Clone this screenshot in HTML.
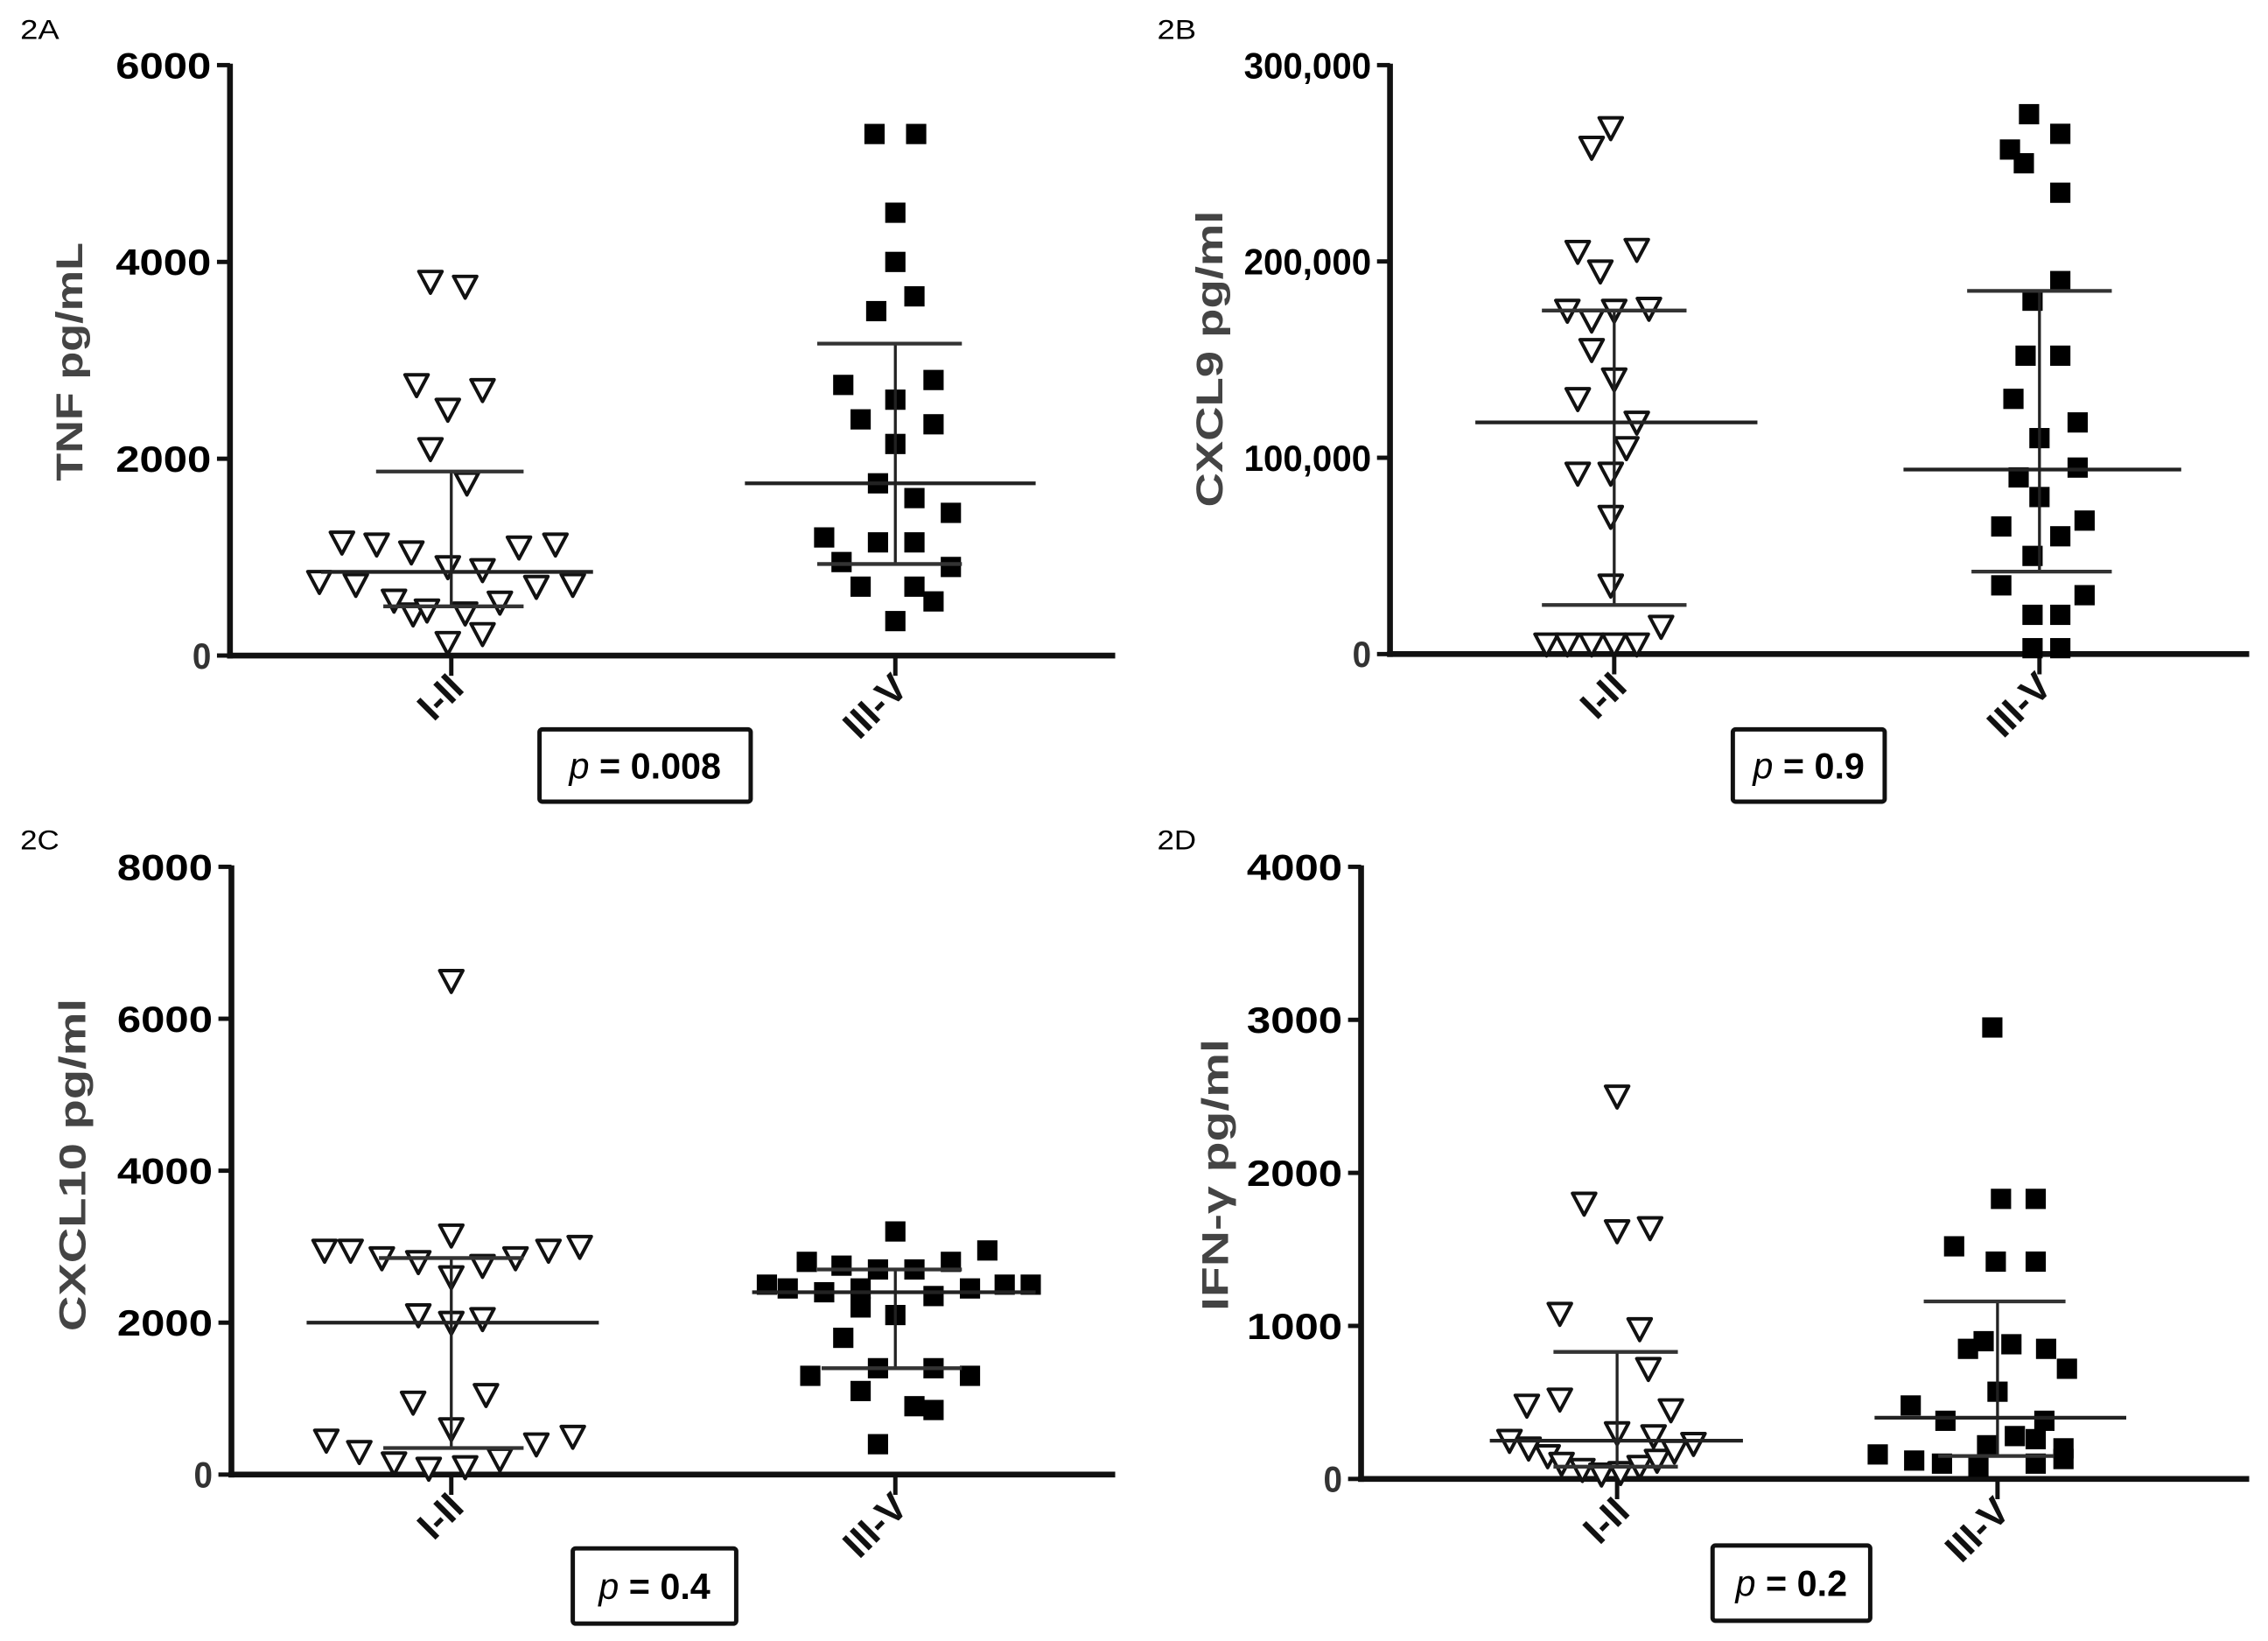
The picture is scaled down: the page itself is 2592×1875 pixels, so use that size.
<!DOCTYPE html>
<html><head><meta charset="utf-8"><style>
html,body{margin:0;padding:0;background:#fff;}
svg{display:block;}
text{font-family:"Liberation Sans",sans-serif;}
</style></head><body>
<svg id="fig" width="2592" height="1875" viewBox="0 0 1568 1134" preserveAspectRatio="none" xmlns="http://www.w3.org/2000/svg"></svg>
<script>
// ---- categories ----
const categories = ["I-II", "III-V"];
// ---- Panel A: TNF ----
const aTicks = [0, 2000, 4000, 6000];
const aTickLabels = ["0", "2000", "4000", "6000"];
const aG1Vals = [3800,3750,2750,2700,2500,2100,1750,1150,1130,1050,900,870,1100,1130,750,720,700,720,560,420,460,430,540,130,220];
const aG1Jit = [-1.2,0.8,-2,1.8,-0.2,-1.2,0.9,-6.3,-4.3,-2.3,-0.2,1.8,3.9,6,-7.6,-5.5,4.9,7,-3.3,-2.2,-1.4,0.8,2.8,-0.2,1.8];
const aG2Vals = [5300,5300,4500,4000,3650,3500,2750,2800,2600,2400,2350,2150,1750,1600,1450,1200,1150,1150,950,900,700,700,550,350];
const aG2Jit = [-1.2,1.2,0,0,1.1,-1.1,-3,2.2,0,-2,2.2,0,-1,1.1,3.2,-4.1,-1,1.1,-3.1,3.2,-2,1.1,2.2,0];
const aStats = [[850,500,1870],[1750,930,3170]];
// ---- Panel B: CXCL9 ----
const bTicks = [0, 100000, 200000, 300000];
const bTickLabels = ["0", "100,000", "200,000", "300,000"];
const bG1Vals = [258000,268000,205000,195000,206000,175000,170000,175000,176000,155000,140000,130000,118000,105000,92000,92000,70000,35000,5000,5000,5000,5000,5000,14000];
const bG1Jit = [-1.3,-0.2,-2.1,-0.8,1.3,-2.7,-1.3,0,2,-1.3,0,-2.1,1.3,0.7,-2.1,-0.2,-0.2,-0.2,-3.9,-2.7,-1.3,0,1.3,2.7];
const bG2Vals = [275000,265000,257000,250000,235000,190000,180000,152000,152000,130000,118000,110000,95000,90000,80000,65000,68000,60000,50000,35000,30000,20000,20000,3000,3000];
const bG2Jit = [-0.6,1.2,-1.7,-0.9,1.2,1.2,-0.4,-0.8,1.2,-1.5,2.2,0,2.2,-1.2,0,-2.2,2.6,1.2,-0.4,-2.2,2.6,-0.4,1.2,-0.4,1.2];
const bStats = [[118000,25000,175000],[94000,42000,185000]];
// ---- Panel C: CXCL10 ----
const cTicks = [0, 2000, 4000, 6000, 8000];
const cTickLabels = ["0", "2000", "4000", "6000", "8000"];
const cG1Vals = [6500,3150,2950,2950,2850,2800,2750,2850,2950,3000,2600,2100,2050,2000,950,1050,600,450,300,150,80,100,200,400,500];
const cG1Jit = [0,0,-7.3,-5.8,-4,-1.9,1.8,3.7,5.6,7.4,0,-1.9,1.8,0,-2.2,2,0,-7.2,-5.3,-3.3,-1.3,0.8,2.8,4.9,7];
const cG2Vals = [3200,2950,2800,2750,2700,2700,2800,2500,2450,2400,2450,2350,2450,2500,2500,2200,2100,1800,1400,1400,1300,1300,1100,900,850,400];
const cG2Jit = [0,5.3,-5.1,-3.1,-1,1.1,3.2,-7.4,-6.2,-4.1,-2,2.2,4.3,6.3,7.8,-2,0,-3,-1,2.2,-4.9,4.3,-2,1.1,2.2,-1];
const cStats = [[2000,350,2850],[2400,1400,2700]];
// ---- Panel D: IFN-gamma ----
const dTicks = [0, 1000, 2000, 3000, 4000];
const dTickLabels = ["0", "1000", "2000", "3000", "4000"];
const dG1Vals = [2500,1800,1620,1640,1080,980,720,480,520,450,300,280,250,200,150,100,60,30,40,80,120,180,230];
const dG1Jit = [0,-1.9,0,1.9,-3.3,1.3,1.8,-5.2,-3.3,3.1,0,2.1,-6.2,-5.1,-4,-3.2,-2,-0.9,0.2,1.3,2.3,3.3,4.4];
const dG2Vals = [2950,1830,1830,1520,1420,1420,900,880,850,850,720,570,480,380,380,280,260,220,200,160,120,100,80,100,130];
const dG2Jit = [-0.3,0.2,2.2,-2.5,-0.1,2.2,-0.8,0.8,-1.7,2.8,4,0,-5,-3,2.7,1,2.2,-0.6,3.8,-6.9,-4.8,-3.2,-1.1,2.2,3.8];
const dStats = [[250,80,830],[400,150,1160]];

const NS = "http://www.w3.org/2000/svg";
const svg = document.getElementById("fig");
function mk(tag, attrs, parent) {
  const e = document.createElementNS(NS, tag);
  for (const k in attrs) e.setAttribute(k, attrs[k]);
  (parent || svg).appendChild(e);
  return e;
}

const panels = [
  {id:"a", letter:"2A", lx:14, ly:27, ax:159, top:45, bot:453, xEnd:771, max:6000, cats:[312,619],
   ticks:aTicks, labels:aTickLabels, g1:[aG1Vals,aG1Jit], g2:[aG2Vals,aG2Jit], stats:aStats,
   ylabel:"TNF pg/mL", ylx:48, yly:250, ylLen:165, tickW:66,
   meanW:[[222,410],[515,716]], capW:[[260,362],[565,665]], lowW:[[265,362],[565,665]],
   box:[373,504,146,50], p:"0.008"},
  {id:"b", letter:"2B", lx:800, ly:27, ax:961, top:45, bot:452, xEnd:1555, max:300000, cats:[1116,1410],
   ticks:bTicks, labels:bTickLabels, g1:[bG1Vals,bG1Jit], g2:[bG2Vals,bG2Jit], stats:bStats,
   ylabel:"CXCL9 pg/ml", ylx:836, yly:248, ylLen:205, tickW:88,
   meanW:[[1020,1215],[1316,1508]], capW:[[1066,1166],[1360,1460]], lowW:[[1066,1166],[1363,1460]],
   box:[1198,504,105,50], p:"0.9"},
  {id:"c", letter:"2C", lx:14, ly:587, ax:160, top:599, bot:1019, xEnd:771, max:8000, cats:[312,619],
   ticks:cTicks, labels:cTickLabels, g1:[cG1Vals,cG1Jit], g2:[cG2Vals,cG2Jit], stats:cStats,
   ylabel:"CXCL10 pg/ml", ylx:50, yly:805, ylLen:230, tickW:66,
   meanW:[[212,414],[520,716]], capW:[[262,362],[565,665]], lowW:[[265,362],[568,665]],
   box:[396,1070,113,52], p:"0.4"},
  {id:"d", letter:"2D", lx:800, ly:587, ax:941, top:599, bot:1022, xEnd:1555, max:4000, cats:[1118,1381],
   ticks:dTicks, labels:dTickLabels, g1:[dG1Vals,dG1Jit], g2:[dG2Vals,dG2Jit], stats:dStats,
   ylabel:"IFN-\u03b3 pg/ml", ylx:840, yly:812, ylLen:188, tickW:66,
   meanW:[[1030,1205],[1296,1470]], capW:[[1074,1160],[1330,1428]], lowW:[[1074,1160],[1340,1420]],
   box:[1184,1068,109,52], p:"0.2"}
];

const SLOT = 12;
panels.forEach(P => {
  const g = mk("g", {});
  
  
  const yS = v => P.bot - (v / P.max) * (P.bot - P.top);

  const lt = mk("text", {x:P.lx, y:P.ly, "font-size":19, fill:"#000", textLength:27, lengthAdjust:"spacingAndGlyphs"}, g);
  lt.textContent = P.letter;
  
  

  const yax = mk("line", {x1:P.ax, y1:P.top-1, x2:P.ax, y2:P.bot+2, stroke:"#111", "stroke-width":4}, g);
  
  
  P.ticks.forEach((t, i) => {
    const y = yS(t);
    const tk = mk("line", {x1:P.ax-9, y1:y, x2:P.ax, y2:y, stroke:"#111", "stroke-width":3}, g);
    
    
    const lab = P.labels[i];
    const attrs = {x:P.ax-13, y:y+9, "font-size":25, "font-weight":"bold", "text-anchor":"end", fill:"#000"};
    if (lab.length > 1) { attrs.textLength = P.tickW; attrs.lengthAdjust = "spacingAndGlyphs"; }
    else { attrs.textLength = 13; attrs.lengthAdjust = "spacingAndGlyphs"; attrs.fill = "#333"; }
    const tl = mk("text", attrs, g);
    tl.textContent = lab;
    
    
  });
  const yt = mk("text", {x:0, y:0, "font-size":26, "font-weight":"bold", fill:"#444", "text-anchor":"middle",
    textLength:P.ylLen, lengthAdjust:"spacingAndGlyphs",
    transform:"translate(" + (P.ylx+9) + "," + P.yly + ") rotate(-90)"}, g);
  yt.textContent = P.ylabel;
  
  

  const xax = mk("line", {x1:P.ax-2, y1:P.bot, x2:P.xEnd, y2:P.bot, stroke:"#111", "stroke-width":4}, g);
  
  
  categories.forEach((c, i) => {
    const x = P.cats[i];
    const tk = mk("line", {x1:x, y1:P.bot, x2:x, y2:P.bot+14, stroke:"#111", "stroke-width":3}, g);
    
    
    const tl = mk("text", {x:0, y:0, "font-size":27, "font-weight":"bold", fill:"#111", "text-anchor":"end",
      transform:"translate(" + (x+10) + "," + (P.bot+24) + ") rotate(-45)"}, g);
    tl.textContent = c;
    
    
  });

  [P.g1, P.g2].forEach((grp, gi) => {
    const cx = P.cats[gi];
    const vals = grp[0], jit = grp[1];
    vals.forEach((v, k) => {
      const x = cx + jit[k] * SLOT, y = yS(v);
      let m;
      if (gi === 0) {
        m = mk("polygon", {points:(x-8)+","+(y-7)+" "+(x+8)+","+(y-7)+" "+x+","+(y+8),
          fill:"#fff", stroke:"#111", "stroke-width":2.4, "stroke-linejoin":"round"}, g);
        
      } else {
        m = mk("rect", {x:x-7, y:y-7, width:14, height:14, fill:"#000"}, g);
        
      }
      
    });
    const st = P.stats[gi];
    const vl = mk("line", {x1:cx, y1:yS(st[1]), x2:cx, y2:yS(st[2]), stroke:"#222", "stroke-width":2}, g);
    
    
    const ml = mk("line", {x1:P.meanW[gi][0], y1:yS(st[0]), x2:P.meanW[gi][1], y2:yS(st[0]), stroke:"#222", "stroke-width":2.6}, g);
    
    
    const uc = mk("line", {x1:P.capW[gi][0], y1:yS(st[2]), x2:P.capW[gi][1], y2:yS(st[2]), stroke:"#333", "stroke-width":2.6}, g);
    
    
    const lc = mk("line", {x1:P.lowW[gi][0], y1:yS(st[1]), x2:P.lowW[gi][1], y2:yS(st[1]), stroke:"#333", "stroke-width":2.6}, g);
    
    
  });

  const b = P.box;
  const br = mk("rect", {x:b[0], y:b[1], width:b[2], height:b[3], fill:"#fff", stroke:"#111", "stroke-width":3, rx:2}, g);
  
  
  const pt = mk("text", {x:b[0]+b[2]/2, y:b[1]+b[3]/2+9, "font-size":25, fill:"#000", "text-anchor":"middle"}, g);
  
  
  const s1 = mk("tspan", {"font-style":"italic"}, pt); s1.textContent = "p";
  const s2 = mk("tspan", {"font-weight":"bold"}, pt); s2.textContent = " = ";
  const s3 = mk("tspan", {"font-weight":"bold"}, pt); s3.textContent = P.p;
});
</script>
</body></html>
